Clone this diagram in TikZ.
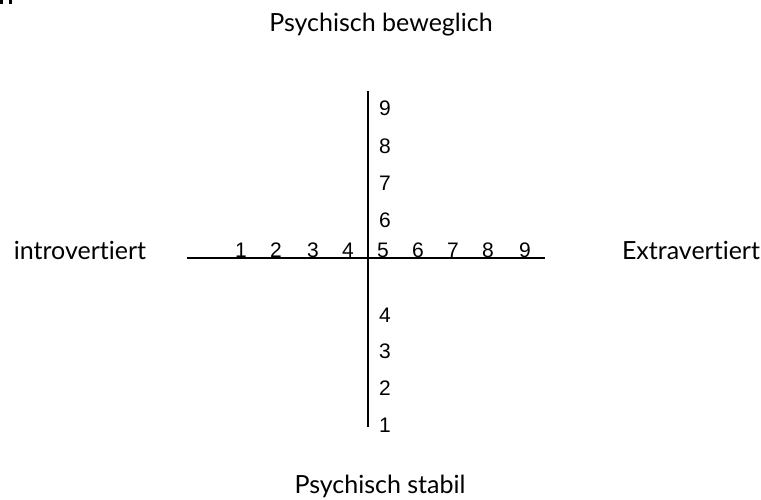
\documentclass[tikz,border=0pt]{standalone}
\usepackage{fontspec}
\setmainfont[Ligatures=NoCommon]{Lato}
\newfontfamily\numfont{Liberation Sans}
\begin{document}
\begin{tikzpicture}[x=1pt,y=-1pt,
  axis/.style={line width=1.9pt,black},
  lbl/.style={font=\fontsize{25}{30}\selectfont,inner sep=0pt,anchor=center},
  num/.style={font=\numfont\fontsize{21}{24}\selectfont,inner sep=0pt,anchor=center}]
\useasboundingbox (0,0) rectangle (761,499);
\fill (0,0) rectangle (2.5,4);
\fill (8.5,0) rectangle (12,4);
\coordinate (hl) at (187,258);
\coordinate (hr) at (545,258);
\coordinate (vt) at (368,91);
\coordinate (vb) at (368,427);
\draw[axis] (hl) -- (hr);
\draw[axis] (vt) -- (vb);
\node[lbl] (top) at (381,25) {Psychisch beweglich};
\node[lbl] (bot) at (380,486) {Psychisch stabil};
\node[lbl] (left) at (80,250) {introvertiert};
\node[lbl] (right) at (691,250) {Extravertiert};
\foreach \n/\x in {1/241,2/276,3/313,4/348,5/383,6/418,7/453,8/488,9/525}
  \node[num] (h\n) at (\x,250) {\n};
\foreach \n/\y in {9/108,8/146,7/183,6/220,4/315,3/351,2/388,1/425}
  \node[num] (v\n) at (385,\y) {\n};
\end{tikzpicture}
\end{document}
